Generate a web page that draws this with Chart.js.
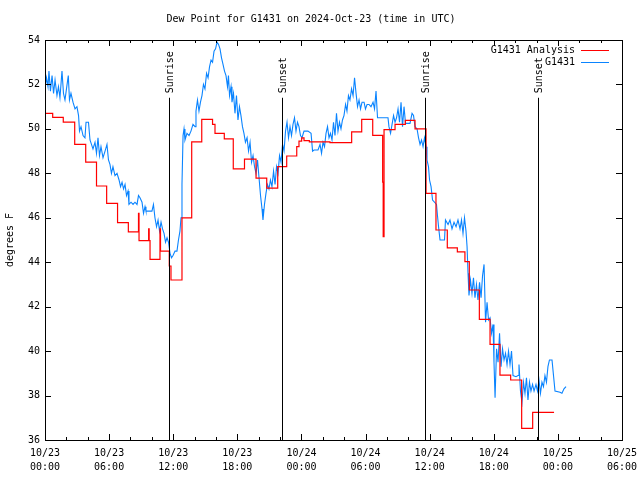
<!DOCTYPE html>
<html>
<head>
<meta charset="utf-8">
<script src="https://cdn.jsdelivr.net/npm/chart.js@4/dist/chart.umd.min.js"></script>
<style>
  body { margin: 0; background: #fff; }
  canvas { display: block; }
</style>
</head>
<body>
<canvas id="dewChart" width="640" height="480"></canvas>
<script>
// hours since 10/23 00:00 UTC
const anaTimes = [0, 0.72, 1.71, 2.78, 3.81, 4.82, 5.77, 6.79, 7.8, 8.75, 8.8, 9.7, 9.75, 9.83, 10.76, 10.81,
  11.63, 11.79, 12.82, 13.73, 14.67, 15.68, 15.91, 16.78, 17.62, 18.67, 19.75, 20.75, 21.78, 22.62, 23.56,
  23.77, 24.02, 24.24, 24.74, 26.67, 28.7, 29.64, 30.67, 31.6, 31.65, 31.73, 32.76, 33.72, 34.63, 35.66,
  36.59, 37.65, 38.59, 39.3, 39.71, 40.65, 41.65, 42.58, 43.58, 44.61, 45.64, 47.64];
const anaValues = [50.7, 50.52, 50.3, 49.3, 48.5, 47.43, 46.65, 45.78, 45.37, 46.2, 44.97, 45.5, 44.97, 44.13, 45.5, 44.5,
  43.83, 43.2, 46.0, 49.42, 50.43, 50.2, 49.8, 49.55, 48.2, 48.64, 47.78, 47.33, 48.3, 48.78, 49.2,
  49.45, 49.6, 49.47, 49.42, 49.38, 49.87, 50.43, 49.71, 47.6, 45.15, 49.97, 50.2, 50.38, 50.0, 47.1,
  45.45, 44.65, 44.47, 44.03, 42.75, 41.43, 40.3, 38.92, 38.7, 36.52, 37.24, 37.24];

const obsTimes = [0.00, 0.14, 0.28, 0.37, 0.51, 0.66, 0.80, 0.94, 1.12, 1.26, 1.40, 1.59, 1.73, 1.87, 2.01, 2.18,
  2.29, 2.43, 2.62, 2.81, 2.99, 3.14, 3.23, 3.37, 3.56, 3.74, 3.84, 4.07, 4.21, 4.35, 4.49, 4.68, 4.82, 4.96,
  5.10, 5.24, 5.43, 5.62, 5.80, 5.94, 6.08, 6.22, 6.36, 6.55, 6.74, 6.93, 7.07, 7.21, 7.35, 7.49, 7.63, 7.77,
  7.86, 8.05, 8.24, 8.42, 8.61, 8.75, 8.89, 9.08, 9.22, 9.36, 9.45, 9.73, 10.01, 10.15, 10.29, 10.44, 10.58,
  10.72, 10.86, 11.00, 11.14, 11.28, 11.42, 11.56, 11.70, 11.84, 11.98, 12.17, 12.35, 12.49, 12.63, 12.73,
  12.82, 12.92, 13.01, 13.10, 13.29, 13.48, 13.66, 13.85, 14.04, 14.13, 14.27, 14.41, 14.55, 14.69, 14.83,
  14.97, 15.12, 15.26, 15.40, 15.54, 15.68, 15.82, 15.96, 16.10, 16.24, 16.38, 16.52, 16.66, 16.80, 16.94,
  17.08, 17.17, 17.27, 17.41, 17.50, 17.64, 17.78, 17.92, 18.06, 18.20, 18.34, 18.48, 18.62, 18.76, 18.91,
  19.05, 19.19, 19.33, 19.47, 19.61, 19.75, 19.89, 20.03, 20.17, 20.31, 20.40, 20.54, 20.68, 20.82, 20.96,
  21.10, 21.24, 21.39, 21.53, 21.67, 21.81, 21.95, 22.09, 22.23, 22.37, 22.51, 22.65, 22.79, 22.93, 23.07,
  23.21, 23.35, 23.49, 23.63, 23.77, 23.91, 24.05, 24.24, 24.61, 24.90, 25.04, 25.18, 25.55, 25.74, 25.88,
  26.02, 26.16, 26.30, 26.44, 26.58, 26.72, 26.86, 27.00, 27.14, 27.28, 27.42, 27.56, 27.70, 27.84, 27.98,
  28.13, 28.26, 28.40, 28.54, 28.69, 28.83, 28.97, 29.11, 29.25, 29.39, 29.53, 29.67, 29.86, 29.99, 30.14,
  30.32, 30.51, 30.70, 30.84, 30.98, 31.12, 32.10, 32.19, 32.34, 32.48, 32.62, 32.76, 32.90, 33.04, 33.18,
  33.32, 33.46, 33.60, 33.74, 34.16, 34.35, 34.49, 34.63, 34.82, 34.96, 35.10, 35.24, 35.38, 35.52, 35.66,
  35.75, 35.89, 35.99, 36.13, 36.27, 36.45, 36.64, 36.73, 36.83, 36.97, 37.39, 37.48, 37.72, 37.90, 38.09,
  38.28, 38.47, 38.65, 38.84, 38.98, 39.12, 39.26, 39.40, 39.50, 39.59, 39.68, 39.82, 39.96, 40.10, 40.24,
  40.38, 40.52, 40.67, 40.81, 40.95, 41.09, 41.23, 41.37, 41.51, 41.65, 41.79, 41.93, 42.02, 42.12, 42.26,
  42.40, 42.54, 42.68, 42.82, 42.96, 43.10, 43.24, 43.38, 43.52, 43.66, 43.80, 44.08, 44.27, 44.36, 44.50,
  44.64, 44.78, 44.92, 45.06, 45.20, 45.34, 45.48, 45.63, 45.77, 45.95, 46.09, 46.23, 46.37, 46.51, 46.65,
  46.79, 46.93, 47.07, 47.21, 47.45, 47.59, 47.73, 48.20, 48.38, 48.57, 48.76];
const obsValues = [51.8, 52.3, 51.9, 52.6, 51.7, 52.4, 51.6, 52.2, 51.5, 51.9, 51.4, 52.6, 51.6, 51.3, 51.8, 52.4,
  51.3, 51.6, 51.2, 50.9, 51.0, 50.6, 49.9, 50.1, 49.7, 49.6, 50.3, 50.3, 49.5, 49.3, 49.1, 49.4, 48.9, 49.6,
  48.8, 49.2, 48.7, 49.0, 49.3, 48.6, 48.4, 48.0, 48.3, 47.9, 48.0, 47.7, 47.4, 47.6, 47.3, 47.5, 47.0, 47.2,
  46.6, 46.7, 46.6, 46.7, 46.6, 47.0, 46.9, 46.7, 46.2, 46.5, 46.3, 46.3, 46.3, 46.6, 46.0, 45.6, 45.9,
  45.4, 45.8, 45.5, 45.3, 44.9, 45.1, 44.9, 44.4, 44.2, 44.3, 44.5, 44.5, 45.0, 45.4, 46.0,
  47.5, 49.7, 50.0, 49.5, 49.8, 49.7, 49.9, 50.2, 50.1, 50.8, 51.3, 50.8, 51.2, 51.5, 52.0,
  51.8, 52.5, 52.3, 52.8, 53.1, 53.0, 53.5, 53.6, 53.9, 53.8, 53.6, 53.2, 52.9, 52.6, 52.4,
  51.9, 52.4, 51.5, 51.9, 51.2, 51.6, 50.7, 51.5, 50.4, 51.0, 50.6, 50.1, 49.8, 49.4, 49.6,
  49.0, 49.4, 48.5, 48.8, 48.3, 48.0, 48.6, 47.8, 47.0, 46.4, 45.9, 46.6, 47.1, 47.5, 47.3,
  47.7, 47.4, 48.1, 47.5, 48.3, 48.0, 48.8, 48.5, 49.3, 49.0, 49.9, 50.3, 49.6, 50.1, 49.7,
  50.2, 50.5, 49.9, 50.3, 50.1, 49.7, 49.6, 49.9, 49.9, 49.8, 49.0, 49.05, 49.05, 49.3, 48.9,
  49.4, 49.2, 49.8, 50.1, 49.6, 49.8, 49.5, 50.3, 49.7, 50.7, 49.9, 50.3, 50.0, 50.4, 50.6,
  51.1, 50.8, 51.5, 51.3, 51.8, 51.5, 52.3, 51.6, 51.0, 51.3, 50.9, 51.2, 51.2, 50.9, 51.1,
  51.1, 51.0, 51.2, 50.9, 51.7, 50.5, 50.5, 50.1, 49.8, 50.2, 50.6, 50.3, 50.5, 50.9, 50.3,
  51.2, 50.1, 51.0, 50.25, 50.25, 50.7, 50.6, 50.1, 50.0, 49.6, 49.3, 49.5, 49.2, 49.6, 49.2,
  48.6, 48.3, 47.7, 47.4, 46.8, 46.7, 46.6, 46.1, 45.6, 45.0, 45.0, 45.9, 45.7, 45.9, 45.5,
  45.8, 45.6, 45.9, 45.5, 45.9, 45.3, 46.0, 45.4, 44.7, 43.5, 42.5, 43.2, 42.6, 43.3, 42.4,
  43.0, 42.3, 43.1, 42.4, 43.4, 43.9, 41.3, 42.2, 41.4, 41.5, 40.8, 41.2, 39.5, 37.9, 40.1,
  39.5, 40.8, 39.3, 40.1, 39.6, 39.9, 39.4, 40.0, 39.4, 40.0, 38.9, 38.85, 38.9, 39.4, 38.2,
  37.7, 38.6, 38.1, 38.8, 37.8, 38.6, 38.2, 38.5, 38.2, 38.5, 38.2, 38.7, 38.1, 38.6, 38.4,
  38.9, 38.6, 39.3, 39.6, 39.6, 38.9, 38.2, 38.15, 38.1, 38.3, 38.4];

const sunTimes = [11.6, 22.18, 35.56, 46.14];
const sunLabels = ['Sunrise', 'Sunset', 'Sunrise', 'Sunset'];

const MONO = '"DejaVu Sans Mono", monospace';

function toPoints(times, values) {
    return times.map((t, i) => ({ x: t, y: values[i] }));
}

function tickLabel(h) {
    const day = 23 + Math.floor(h / 24);
    const hh = String(h % 24).padStart(2, '0');
    return ['10/' + day, hh + ':00'];
}

// gnuplot-like frame with inward ticks, sun markers and legend
const decorations = {
    id: 'decorations',
    afterDatasetsDraw(chart) {
        const { ctx, chartArea: a, scales } = chart;
        const xs = scales.x, ys = scales.y;
        ctx.save();
        ctx.strokeStyle = '#000';
        ctx.lineWidth = 1;

        // sunrise / sunset lines
        sunTimes.forEach((t, i) => {
            const px = Math.round(xs.getPixelForValue(t)) + 0.5;
            ctx.beginPath();
            ctx.moveTo(px, ys.getPixelForValue(51.4));
            ctx.lineTo(px, a.bottom);
            ctx.stroke();
            ctx.save();
            ctx.translate(px + 1, ys.getPixelForValue(51.6));
            ctx.rotate(-Math.PI / 2);
            ctx.fillStyle = '#000';
            ctx.font = '10px ' + MONO;
            ctx.textAlign = 'left';
            ctx.textBaseline = 'middle';
            ctx.fillText(sunLabels[i], 0, 0);
            ctx.restore();
        });

        // frame
        ctx.strokeRect(Math.round(a.left) + 0.5, Math.round(a.top) + 0.5,
            Math.round(a.right - a.left), Math.round(a.bottom - a.top));

        // x ticks (every 2 h, major every 6 h), bottom and top
        ctx.beginPath();
        for (let h = 0; h <= 54; h += 2) {
            const px = Math.round(xs.getPixelForValue(h)) + 0.5;
            const len = h % 6 === 0 ? 6 : 3;
            ctx.moveTo(px, a.bottom); ctx.lineTo(px, a.bottom - len);
            ctx.moveTo(px, a.top); ctx.lineTo(px, a.top + len);
        }
        // y ticks, left and right
        for (let v = 36; v <= 54; v += 2) {
            const py = Math.round(ys.getPixelForValue(v)) + 0.5;
            ctx.moveTo(a.left, py); ctx.lineTo(a.left + 6, py);
            ctx.moveTo(a.right, py); ctx.lineTo(a.right - 6, py);
        }
        ctx.stroke();

        // legend
        ctx.font = '10px ' + MONO;
        ctx.textAlign = 'right';
        ctx.textBaseline = 'middle';
        ctx.fillStyle = '#000';
        chart.data.datasets.forEach((ds, i) => {
            const y = a.top + 10 + i * 12;
            ctx.fillText(ds.label, a.right - 47, y);
            ctx.beginPath();
            ctx.strokeStyle = ds.borderColor;
            ctx.moveTo(a.right - 41, y + 0.5);
            ctx.lineTo(a.right - 13, y + 0.5);
            ctx.stroke();
        });
        ctx.restore();
    }
};

const ctx = document.getElementById('dewChart').getContext('2d');
new Chart(ctx, {
    type: 'line',
    data: {
        datasets: [
            {
                label: 'G1431 Analysis',
                data: toPoints(anaTimes, anaValues),
                borderColor: '#ff0000',
                borderWidth: 1.2,
                stepped: 'before',
                pointRadius: 0,
                fill: false
            },
            {
                label: 'G1431',
                data: toPoints(obsTimes, obsValues),
                borderColor: '#0a84ff',
                borderWidth: 1.1,
                pointRadius: 0,
                tension: 0,
                fill: false
            }
        ]
    },
    options: {
        responsive: false,
        animation: false,
        devicePixelRatio: 1,
        layout: { padding: { left: 0, right: 18, top: 0, bottom: 0 } },
        scales: {
            x: {
                type: 'linear',
                min: 0,
                max: 54,
                afterFit: s => { s.height = 40; s.paddingLeft = 0; s.paddingRight = 0; },
                grid: { display: false, drawTicks: false },
                border: { display: false },
                ticks: {
                    stepSize: 6,
                    autoSkip: false,
                    maxRotation: 0,
                    padding: 6,
                    color: '#000',
                    font: { family: MONO, size: 10, lineHeight: 1.4 },
                    callback: v => tickLabel(v)
                }
            },
            y: {
                min: 36,
                max: 54,
                afterFit: s => { s.width = 45; },
                grid: { display: false, drawTicks: false },
                border: { display: false },
                title: {
                    display: true,
                    text: 'degrees F',
                    color: '#000',
                    font: { family: MONO, size: 10 },
                    padding: { top: 4, bottom: 0 }
                },
                ticks: {
                    stepSize: 2,
                    padding: 5,
                    color: '#000',
                    font: { family: MONO, size: 10 }
                }
            }
        },
        plugins: {
            legend: { display: false },
            tooltip: { enabled: false },
            title: {
                display: true,
                text: 'Dew Point for G1431 on 2024-Oct-23 (time in UTC)',
                color: '#000',
                font: { family: MONO, size: 10, weight: 'normal' },
                padding: { top: 13, bottom: 15 }
            }
        }
    },
    plugins: [decorations]
});
</script>
</body>
</html>
